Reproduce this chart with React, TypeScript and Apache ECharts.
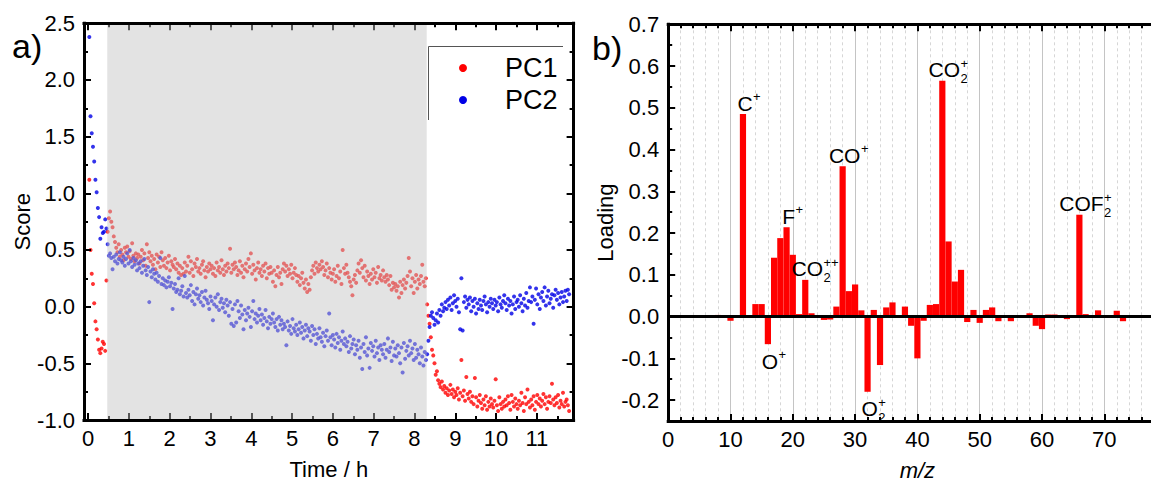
import React, { useEffect, useRef } from 'react';
import * as echarts from 'echarts';

const FONT = "'Liberation Sans', Arial, Helvetica, sans-serif";

// ---------- Panel a) : PCA scores vs time ----------
const timeH = [
  0.03,0.06,0.09,0.12,0.15,0.18,0.21,0.24,0.27,0.3,
  0.33,0.36,0.39,0.42,0.45,0.48,0.51,0.54,0.57,0.6,
  0.63,0.66,0.69,0.72,0.75,0.78,0.81,0.84,0.87,0.9,
  0.93,0.96,0.99,1.02,1.05,1.08,1.11,1.14,1.17,1.2,
  1.23,1.26,1.29,1.32,1.35,1.38,1.41,1.44,1.47,1.5,
  1.53,1.56,1.59,1.62,1.65,1.68,1.71,1.74,1.77,1.8,
  1.83,1.86,1.89,1.92,1.95,1.98,2.01,2.04,2.07,2.1,
  2.13,2.16,2.19,2.22,2.25,2.28,2.31,2.34,2.37,2.4,
  2.43,2.46,2.49,2.52,2.55,2.58,2.61,2.64,2.67,2.7,
  2.73,2.76,2.79,2.82,2.85,2.88,2.91,2.94,2.97,3,
  3.03,3.06,3.09,3.12,3.15,3.18,3.21,3.24,3.27,3.3,
  3.33,3.36,3.39,3.42,3.45,3.48,3.51,3.54,3.57,3.6,
  3.63,3.66,3.69,3.72,3.75,3.78,3.81,3.84,3.87,3.9,
  3.93,3.96,3.99,4.02,4.05,4.08,4.11,4.14,4.17,4.2,
  4.23,4.26,4.29,4.32,4.35,4.38,4.41,4.44,4.47,4.5,
  4.53,4.56,4.59,4.62,4.65,4.68,4.71,4.74,4.77,4.8,
  4.83,4.86,4.89,4.92,4.95,4.98,5.01,5.04,5.07,5.1,
  5.13,5.16,5.19,5.22,5.25,5.28,5.31,5.34,5.37,5.4,
  5.43,5.46,5.49,5.52,5.55,5.58,5.61,5.64,5.67,5.7,
  5.73,5.76,5.79,5.82,5.85,5.88,5.91,5.94,5.97,6,
  6.03,6.06,6.09,6.12,6.15,6.18,6.21,6.24,6.27,6.3,
  6.33,6.36,6.39,6.42,6.45,6.48,6.51,6.54,6.57,6.6,
  6.63,6.66,6.69,6.72,6.75,6.78,6.81,6.84,6.87,6.9,
  6.93,6.96,6.99,7.02,7.05,7.08,7.11,7.14,7.17,7.2,
  7.23,7.26,7.29,7.32,7.35,7.38,7.41,7.44,7.47,7.5,
  7.53,7.56,7.59,7.62,7.65,7.68,7.71,7.74,7.77,7.8,
  7.83,7.86,7.89,7.92,7.95,7.98,8.01,8.04,8.07,8.1,
  8.13,8.16,8.19,8.22,8.25,8.28,8.31,8.34,8.37,8.4,
  8.43,8.46,8.49,8.52,8.55,8.58,8.61,8.64,8.67,8.7,
  8.73,8.76,8.79,8.82,8.85,8.88,8.91,8.94,8.97,9,
  9.03,9.06,9.09,9.12,9.15,9.18,9.21,9.24,9.27,9.3,
  9.33,9.36,9.39,9.42,9.45,9.48,9.51,9.54,9.57,9.6,
  9.63,9.66,9.69,9.72,9.75,9.78,9.81,9.84,9.87,9.9,
  9.93,9.96,9.99,10.02,10.05,10.08,10.11,10.14,10.17,10.2,
  10.23,10.26,10.29,10.32,10.35,10.38,10.41,10.44,10.47,10.5,
  10.53,10.56,10.59,10.62,10.65,10.68,10.71,10.74,10.77,10.8,
  10.83,10.86,10.89,10.92,10.95,10.98,11.01,11.04,11.07,11.1,
  11.13,11.16,11.19,11.22,11.25,11.28,11.31,11.34,11.37,11.4,
  11.43,11.46,11.49,11.52,11.55,11.58,11.61,11.64,11.67,11.7,
  11.73,11.76,11.79,
];

const pc1Score = [
  1.12,0.5,0.29,0.2,0.03,-0.13,-0.2,-0.29,-0.38,-0.41,
  -0.37,-0.31,-0.33,-0.39,0.23,0.66,0.78,0.84,0.75,0.7,
  0.62,0.57,0.52,0.48,0.55,0.44,0.5,0.46,0.41,0.52,
  0.48,0.53,0.44,0.49,0.42,0.56,0.45,0.4,0.47,0.43,
  0.46,0.38,0.44,0.5,0.41,0.47,0.36,0.55,0.43,0.48,
  0.4,0.45,0.37,0.42,0.33,0.46,0.39,0.44,0.35,0.48,
  0.41,0.36,0.43,0.34,0.39,0.45,0.32,0.4,0.37,0.35,
  0.42,0.33,0.38,0.3,0.36,0.28,0.34,0.29,0.39,0.31,
  0.36,0.44,0.3,0.4,0.33,0.27,0.38,0.35,0.42,0.31,
  0.34,0.29,0.37,0.4,0.32,0.26,0.35,0.31,0.38,0.33,
  0.36,0.29,0.34,0.27,0.39,0.32,0.35,0.3,0.41,0.33,
  0.28,0.36,0.31,0.38,0.34,0.51,0.3,0.37,0.33,0.39,
  0.35,0.28,0.32,0.4,0.3,0.36,0.26,0.33,0.38,0.31,
  0.42,0.35,0.47,0.29,0.37,0.32,0.24,0.34,0.39,0.3,
  0.33,0.27,0.36,0.31,0.38,0.25,0.34,0.29,0.35,0.3,
  0.22,0.32,0.18,0.28,0.35,0.26,0.3,0.2,0.33,0.38,
  0.31,0.36,0.27,0.33,0.29,0.37,0.25,0.3,0.34,0.28,
  0.22,0.27,0.19,0.25,0.3,0.21,0.16,0.24,0.13,0.2,
  0.15,0.26,0.32,0.36,0.29,0.39,0.34,0.31,0.37,0.33,
  0.4,0.35,0.28,0.32,0.38,0.26,0.34,0.3,0.24,0.29,
  0.33,0.22,0.27,0.36,0.25,0.31,0.2,0.5,0.34,0.29,
  0.37,0.3,0.26,0.22,0.18,0.1,0.24,0.28,0.21,0.32,
  0.38,0.3,0.41,0.34,0.26,0.36,0.23,0.31,0.27,0.2,
  0.29,0.24,0.33,0.26,0.3,0.21,0.35,0.25,0.28,0.23,
  0.32,0.26,0.22,0.28,0.24,0.19,0.27,0.15,0.21,0.17,
  0.2,0.14,0.18,0.08,0.22,0.12,0.19,0.24,0.16,0.21,
  0.27,0.43,0.31,0.18,0.25,0.12,0.22,0.28,0.16,0.24,
  0.2,0.27,0.37,0.22,0.18,0.25,0.02,-0.08,-0.15,-0.27,
  -0.38,-0.43,-0.5,-0.6,-0.57,-0.65,-0.68,-0.71,-0.66,-0.73,
  -0.7,-0.76,-0.72,-0.78,-0.74,-0.69,-0.77,-0.73,-0.8,-0.75,
  -0.78,-0.72,-0.82,-0.76,-0.47,-0.79,-0.74,-0.83,-0.62,-0.77,
  -0.81,-0.75,-0.84,-0.79,-0.86,-0.63,-0.8,-0.88,-0.83,-0.78,
  -0.85,-0.9,-0.82,-0.87,-0.79,-0.91,-0.84,-0.88,-0.81,-0.86,
  -0.89,-0.83,-0.64,-0.87,-0.92,-0.8,-0.86,-0.9,-0.84,-0.88,
  -0.82,-0.87,-0.79,-0.85,-0.91,-0.78,-0.84,-0.88,-0.81,-0.86,
  -0.9,-0.83,-0.87,-0.76,-0.85,-0.92,-0.8,-0.86,-0.73,-0.84,
  -0.89,-0.82,-0.87,-0.79,-0.91,-0.84,-0.78,-0.86,-0.81,-0.88,
  -0.83,-0.77,-0.86,-0.8,-0.9,-0.84,-0.79,-0.85,-0.68,-0.82,
  -0.87,-0.8,-0.85,-0.78,-0.89,-0.83,-0.86,-0.76,-0.88,-0.84,
  -0.82,-0.87,-0.92,
];

const pc2Score = [
  2.38,1.68,1.53,1.41,1.28,1.12,1.01,0.87,0.79,0.6,
  0.7,0.65,0.66,0.77,0.69,0.55,0.45,0.47,0.43,0.33,
  0.44,0.4,0.46,0.38,0.42,0.48,0.41,0.39,0.44,0.36,
  0.42,0.47,0.38,0.5,0.4,0.35,0.43,0.37,0.41,0.32,
  0.38,0.34,0.4,0.3,0.36,0.42,0.32,0.28,0.35,0.04,
  0.31,0.26,0.33,0.29,0.24,0.3,0.22,0.27,0.43,0.2,
  0.25,0.19,0.23,0.17,0.22,0.26,0.18,0.21,-0.02,0.16,
  0.2,0.13,0.15,0.25,0.11,0.14,0.18,0.09,0.27,0.12,
  0.08,0.15,0.1,0.19,0.05,0.13,0.02,0.11,0.16,0.07,
  0.1,0.04,0.13,0.01,0.08,0.14,0.06,0.03,-0.02,0.09,
  0.05,-0.12,0.02,0.08,0,0.11,-0.03,0.04,0.07,-0.01,
  0.03,-0.05,0.06,0.01,-0.08,0.04,-0.15,-0.02,-0.17,0.02,
  -0.14,0.05,-0.04,-0.1,0.01,-0.07,-0.2,-0.03,-0.12,-0.06,
  -0.01,-0.09,-0.18,-0.04,0.05,-0.11,-0.06,-0.14,-0.08,-0.02,
  -0.12,-0.07,-0.16,-0.1,-0.03,-0.13,-0.19,-0.09,-0.15,-0.11,
  -0.06,-0.14,-0.18,-0.11,-0.21,-0.09,-0.16,-0.12,-0.2,-0.15,
  -0.18,-0.34,-0.13,-0.21,-0.17,-0.24,-0.11,-0.19,-0.22,-0.16,
  -0.25,-0.2,-0.14,-0.23,-0.18,-0.28,-0.21,-0.16,-0.26,-0.19,
  -0.22,-0.3,-0.17,-0.25,-0.2,-0.33,-0.24,-0.28,-0.19,-0.27,
  -0.31,-0.23,-0.35,-0.26,-0.21,-0.3,-0.06,-0.27,-0.34,-0.25,
  -0.29,-0.36,-0.24,-0.32,-0.27,-0.38,-0.3,-0.22,-0.33,-0.28,
  -0.35,-0.31,-0.4,-0.26,-0.37,-0.33,-0.29,-0.42,-0.34,-0.38,
  -0.3,-0.45,-0.36,-0.55,-0.33,-0.4,-0.27,-0.43,-0.37,-0.54,
  -0.32,-0.39,-0.35,-0.44,-0.3,-0.41,-0.36,-0.47,-0.34,-0.38,
  -0.42,-0.33,-0.45,-0.38,-0.28,-0.4,-0.36,-0.48,-0.31,-0.43,
  -0.37,-0.44,-0.34,-0.41,-0.5,-0.36,-0.58,-0.32,-0.46,-0.39,
  -0.35,-0.43,-0.3,-0.41,-0.37,-0.47,-0.33,-0.45,-0.38,-0.42,
  -0.5,-0.36,-0.44,-0.52,-0.4,-0.47,-0.42,-0.3,-0.18,-0.08,
  -0.05,-0.1,-0.16,-0.12,-0.06,-0.14,-0.03,-0.08,0.02,-0.04,
  -0.01,0.04,-0.02,0.06,0.01,0.08,-0.03,0.03,0.1,0.05,
  0,0.07,-0.05,-0.2,0.25,-0.21,0.04,0.09,-0.01,0.06,
  0.02,0.08,-0.04,0.05,0,0.07,-0.06,0.03,-0.02,0.06,
  0.01,-0.03,0.05,0.09,0.02,-0.05,0.04,0,0.07,0.03,
  -0.02,0.06,0.01,0.04,-0.04,0.08,0.02,-0.01,0.05,0.1,
  0.03,-0.03,0.07,0.01,0.05,-0.06,0.02,0.09,-0.02,0.04,
  0.06,0,0.1,0.03,-0.04,0.07,0.01,0.12,-0.01,0.05,
  0.17,0.04,0.09,-0.15,0.06,0.16,0.02,0.11,-0.02,0.08,
  0.13,0.05,0.17,0.01,0.09,0.14,0.03,0.07,0.11,-0.01,
  0.1,0.15,0.06,0.12,0.02,0.08,0.13,0.04,0.09,0.14,
  0.05,0.15,0.11,
];

// shaded time window (h)
const shadeStart = 0.47;
const shadeEnd = 8.3;

const timeTicks = [0,1,2,3,4,5,6,7,8,9,10,11];
const timeMinorTicks = [0.5,1.5,2.5,3.5,4.5,5.5,6.5,7.5,8.5,9.5,10.5,11.5];
const scoreTicks = [-1,-0.5,0,0.5,1,1.5,2,2.5];
const scoreMinorTicks = [-0.75,-0.25,0.25,0.75,1.25,1.75,2.25];

// ---------- Panel b) : PC loadings vs m/z ----------
const mzValues = [
  8,10,12,14,15,16,17,18,19,20,21,22,23,25,26,27,28,29,30,31,32,33,34,35,36,38,39,40,41,42,
  43,44,45,46,47,48,49,50,51,52,53,55,58,59,60,61,62,64,66,67,69,72,73,74,
];
const loadingValues = [
  0.004,-0.01,0.485,0.03,0.03,-0.066,0.141,0.188,0.214,0.148,0.006,0.088,0.008,-0.008,-0.007,
  0.024,0.36,0.061,0.077,0.015,-0.18,0.016,-0.116,0.022,0.034,0.024,-0.022,-0.1,-0.01,0.028,
  0.03,0.565,0.18,0.084,0.112,-0.013,0.016,-0.015,0.016,0.022,-0.011,-0.011,0.008,-0.022,-0.03,
  0.005,0.005,-0.006,0.244,0.006,0.015,0.014,-0.011,-0.002,
];
const mzTickLabels = [0,10,20,30,40,50,60,70];
const mzTicks = [0,10,20,30,40,50,60,70,80];
const mzMinorTicks = [
  2,4,6,8,12,14,16,18,22,24,26,28,32,34,36,38,42,44,46,48,52,54,56,58,62,64,66,68,72,74,76,78,
];
const loadingTicks = [-0.2,-0.1,0,0.1,0.2,0.3,0.4,0.5,0.6,0.7];
const loadingMinorTicks = [-0.15,-0.05,0.05,0.15,0.25,0.35,0.45,0.55,0.65];

// ion annotations
const ionMz = [12,16,19,22,28,32,44,66];
const ionBase = ['C','O','F','CO','CO','O','CO','COF'];
const ionSub = ['','','','2','','2','2','2'];
const ionSup = ['+','+','+','++','+','+','+','+'];
const ionAbove = [true,false,true,true,true,false,true,true];

// ---------- helpers ----------
let measureCtx: CanvasRenderingContext2D | null = null;
function textWidth(s: string, size: number) {
  if (!measureCtx) {
    const c = document.createElement('canvas');
    measureCtx = c.getContext('2d');
  }
  if (!measureCtx) return s.length * size * 0.6;
  measureCtx.font = `${size}px ${FONT}`;
  return measureCtx.measureText(s).width;
}

const labelStyle = { color: '#000', fontSize: 22, fontFamily: FONT };
const nameStyle = { color: '#000', fontSize: 22, fontFamily: FONT };

function txt(text: string, x: number, y: number, size: number, extra: any = {}) {
  return {
    type: 'text',
    x,
    y,
    silent: true,
    style: {
      text,
      fontSize: size,
      fontFamily: FONT,
      fill: '#000',
      align: 'left',
      textAlign: 'left',
      verticalAlign: 'middle',
      textVerticalAlign: 'middle',
      ...extra,
    },
  };
}

// one axis layer: only ticks at the given values (plus optional labels / frame line)
function axisLayer(
  dim: 'x' | 'y',
  gridIndex: number,
  position: string,
  min: number,
  max: number,
  ticks: number[],
  tickLen: number,
  opts: any = {},
) {
  const { labels, frame, ...rest } = opts;
  return {
    gridIndex,
    type: 'value',
    position,
    min,
    max,
    z: frame ? 12 : 3,
    axisLine: { show: !!frame, onZero: false, lineStyle: { color: '#000', width: 3, cap: 'square' } },
    splitLine: { show: false },
    axisTick: {
      show: true,
      inside: true,
      length: tickLen,
      customValues: ticks,
      lineStyle: { color: '#000', width: 2 },
    },
    axisLabel: labels
      ? { show: true, customValues: labels, ...labelStyle, formatter: (v: number) => (dim === 'y' ? v.toFixed(1) : String(v)) }
      : { show: false },
    ...rest,
  };
}

function buildOption(): any {
  const LEFT_GRID = { left: 84, top: 23.3, width: 489.6, height: 396.7 };
  const RIGHT_GRID = { left: 668.2, top: 24.3, width: 498.4, height: 396.7 };

  const xAxis: any[] = [
    // left panel
    axisLayer('x', 0, 'bottom', -0.1, 11.9, timeTicks, 7, {
      labels: timeTicks,
      name: 'Time / h', nameLocation: 'middle', nameGap: 38, nameTextStyle: nameStyle,
    }),
    axisLayer('x', 0, 'bottom', -0.1, 11.9, timeMinorTicks, 4),
    axisLayer('x', 0, 'top', -0.1, 11.9, timeTicks, 7),
    axisLayer('x', 0, 'top', -0.1, 11.9, timeMinorTicks, 4),
    axisLayer('x', 0, 'bottom', -0.1, 11.9, [], 0, { frame: true }),
    axisLayer('x', 0, 'top', -0.1, 11.9, [], 0, { frame: true }),
    // right panel
    {
      gridIndex: 1, type: 'value', position: 'bottom', min: 0, max: 80, interval: 10, z: 1,
      axisLine: { show: false, onZero: false },
      axisTick: { show: false },
      axisLabel: { show: false },
      splitLine: { show: true, lineStyle: { color: '#c4c4c4', width: 1 } },
      minorTick: { show: false, splitNumber: 5 },
      minorSplitLine: { show: true, lineStyle: { color: '#d6d6d6', width: 1, type: [3, 3] } },
    },
    axisLayer('x', 1, 'bottom', 0, 80, mzTicks, 7, {
      labels: mzTickLabels,
      name: 'm/z', nameLocation: 'middle', nameGap: 38, nameTextStyle: { ...nameStyle, fontStyle: 'italic' },
    }),
    axisLayer('x', 1, 'bottom', 0, 80, mzMinorTicks, 4),
    axisLayer('x', 1, 'top', 0, 80, mzTicks, 7),
    axisLayer('x', 1, 'top', 0, 80, mzMinorTicks, 4),
    axisLayer('x', 1, 'bottom', 0, 80, [], 0, { frame: true }),
    axisLayer('x', 1, 'top', 0, 80, [], 0, { frame: true }),
  ];

  const yAxis: any[] = [
    // left panel
    axisLayer('y', 0, 'left', -1, 2.5, scoreTicks, 7, {
      labels: scoreTicks,
      name: 'Score', nameLocation: 'middle', nameGap: 50, nameRotate: 90, nameTextStyle: nameStyle,
    }),
    axisLayer('y', 0, 'left', -1, 2.5, scoreMinorTicks, 4),
    axisLayer('y', 0, 'right', -1, 2.5, scoreTicks, 7),
    axisLayer('y', 0, 'right', -1, 2.5, scoreMinorTicks, 4),
    axisLayer('y', 0, 'left', -1, 2.5, [], 0, { frame: true }),
    axisLayer('y', 0, 'right', -1, 2.5, [], 0, { frame: true }),
    // right panel
    axisLayer('y', 1, 'left', -0.25, 0.7, loadingTicks, 7, {
      labels: loadingTicks,
      name: 'Loading', nameLocation: 'middle', nameGap: 52, nameRotate: 90, nameTextStyle: nameStyle,
    }),
    axisLayer('y', 1, 'left', -0.25, 0.7, loadingMinorTicks, 4),
    axisLayer('y', 1, 'left', -0.25, 0.7, [], 0, { frame: true }),
  ];
  // label margins
  xAxis[0].axisLabel.margin = 7;
  xAxis[7].axisLabel.margin = 7;
  yAxis[0].axisLabel.margin = 9;
  yAxis[6].axisLabel.margin = 9;

  const loadingByMz = (m: number) => loadingValues[mzValues.indexOf(m)];

  const series: any[] = [
    {
      type: 'scatter', name: 'PC1', xAxisIndex: 0, yAxisIndex: 0,
      symbol: 'circle', symbolSize: 4,
      itemStyle: { color: '#ff0000' },
      data: timeH.map((t, i) => [t, pc1Score[i]]),
      markArea: {
        silent: true, z: 5,
        itemStyle: { color: 'rgba(192,192,192,0.45)', borderWidth: 0 },
        label: { show: false },
        data: [[{ xAxis: shadeStart }, { xAxis: shadeEnd }]],
      },
    },
    {
      type: 'scatter', name: 'PC2', xAxisIndex: 0, yAxisIndex: 0,
      symbol: 'circle', symbolSize: 4,
      itemStyle: { color: '#0000e6' },
      data: timeH.map((t, i) => [t, pc2Score[i]]),
    },
    {
      type: 'bar', name: 'Loading', xAxisIndex: 6, yAxisIndex: 6,
      barWidth: 6.2,
      itemStyle: { color: '#ff0000' },
      data: mzValues.map((m, i) => [m, loadingValues[i]]),
      markLine: {
        silent: true, z: 5, symbol: 'none',
        label: { show: false },
        lineStyle: { color: '#000', width: 3, type: 'solid' },
        data: [{ yAxis: 0 }],
      },
    },
    {
      type: 'custom', name: 'ions', xAxisIndex: 6, yAxisIndex: 6, z: 6,
      silent: true,
      data: ionMz.map((m, i) => [m, loadingByMz(m), i]),
      renderItem: (params: any, api: any) => {
        const i = params.dataIndex;
        const p = api.coord([api.value(0), api.value(1)]);
        const baseSize = 21;
        const smallSize = 13;
        const w = textWidth(ionBase[i], baseSize);
        const left = p[0] + 2 - w / 2;
        const midY = ionAbove[i] ? p[1] - 11 : p[1] + 17;
        const children: any[] = [txt(ionBase[i], left, midY, baseSize)];
        if (ionSub[i]) children.push(txt(ionSub[i], left + w + 0.5, midY + 9, smallSize));
        if (ionSup[i]) children.push(txt(ionSup[i], left + w + 0.5, midY - 6.5, smallSize));
        return { type: 'group', children };
      },
    },
  ];

  const graphic: any[] = [
    txt('a)', 12, 46, 34),
    txt('b)', 592, 48, 34),
    {
      type: 'polyline', silent: true,
      shape: { points: [[428.5, 120], [428.5, 46.5], [563, 46.5]] },
      style: { stroke: '#555', lineWidth: 1, fill: 'none' },
    },
    { type: 'circle', silent: true, shape: { cx: 463, cy: 68, r: 4 }, style: { fill: '#ff0000' } },
    { type: 'circle', silent: true, shape: { cx: 463, cy: 100, r: 4 }, style: { fill: '#0000e6' } },
    txt('PC1', 505, 68, 27),
    txt('PC2', 505, 100, 27),
  ];

  const gridCommon = { show: false, containLabel: false, outerBoundsMode: 'none' };

  return {
    animation: false,
    backgroundColor: '#ffffff',
    textStyle: { fontFamily: FONT },
    grid: [
      { ...LEFT_GRID, ...gridCommon },
      { ...RIGHT_GRID, ...gridCommon },
    ],
    xAxis,
    yAxis,
    series,
    graphic,
  };
}

export default function App() {
  const ref = useRef<HTMLDivElement>(null);
  useEffect(() => {
    if (!ref.current) return;
    const chart = echarts.init(ref.current, null, { renderer: 'svg' });
    chart.setOption(buildOption());
    return () => chart.dispose();
  }, []);
  return (
    <div
      ref={ref}
      style={{ position: 'fixed', left: 0, top: 0, width: 1151, height: 485, background: '#fff' }}
    />
  );
}
